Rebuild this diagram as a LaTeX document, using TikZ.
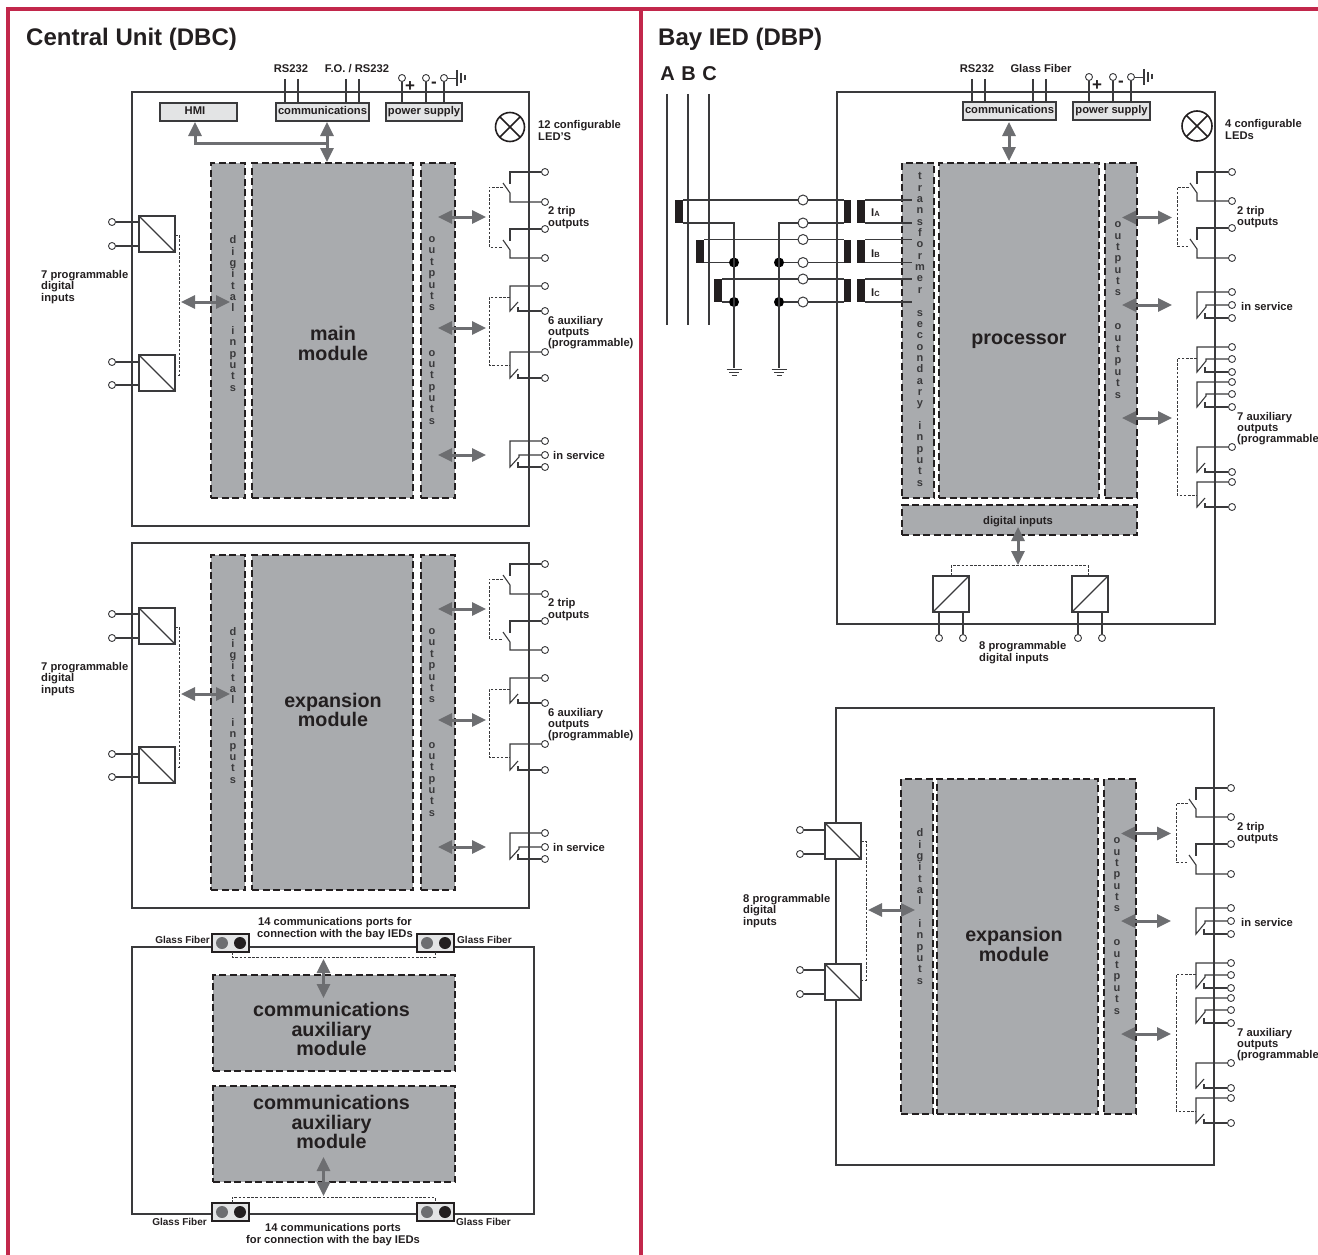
\documentclass[tikz,border=0pt]{standalone}
\usepackage{fontspec}
\setmainfont{Liberation Sans}
\usetikzlibrary{arrows.meta}
\definecolor{inkc}{HTML}{231F20}
\definecolor{linec}{HTML}{3A3A3C}
\definecolor{redc}{HTML}{C2274B}
\definecolor{blockc}{HTML}{A9ABAE}
\definecolor{arrowc}{HTML}{6D6E71}
\definecolor{boxc}{HTML}{E3E4E5}
\tikzset{
  redline/.style={draw=redc,line width=4pt},
  wire/.style={draw=linec,line width=1.1pt},
  frame/.style={draw=linec,line width=1.2pt,inner sep=0pt,outer sep=0pt},
  blockn/.style={draw=inkc,fill=blockc,line width=1.2pt,dash pattern=on 7pt off 3.5pt,inner sep=0pt,outer sep=0pt},
  grayb/.style={draw=linec,fill=boxc,line width=1.2pt,inner sep=0pt,outer sep=0pt},
  convb/.style={draw=linec,fill=white,line width=1.2pt,inner sep=0pt,outer sep=0pt},
  barb/.style={fill=inkc,draw=none,inner sep=0pt,outer sep=0pt},
  portb/.style={draw=inkc,fill=boxc,line width=1.4pt,inner sep=0pt,outer sep=0pt},
  term/.style={circle,draw=linec,fill=white,line width=.9pt,minimum size=7pt,inner sep=0pt},
  bigterm/.style={circle,draw=linec,fill=white,line width=1pt,minimum size=10pt,inner sep=0pt},
  jdot/.style={circle,fill=black,minimum size=10pt,inner sep=0pt},
  ctl/.style={dash pattern=on 2.6pt off 1.6pt,draw=linec,line width=.8pt},
  biarrow/.style={draw=arrowc,line width=3pt,{Triangle[length=14pt,width=13pt]}-{Triangle[length=14pt,width=13pt]}},
  uniarrow/.style={draw=arrowc,line width=3pt,-{Triangle[length=14pt,width=13pt]}},
  lab/.style={font=\bfseries\fontsize{11.2}{11.3}\selectfont,text=inkc,align=left,inner sep=0pt,anchor=west,yshift=-1pt},
  gflab/.style={font=\bfseries\fontsize{10}{11}\selectfont,text=inkc,inner sep=0pt,anchor=west,yshift=-1pt},
  clab/.style={font=\bfseries\fontsize{11.2}{11.5}\selectfont,text=inkc,align=center,inner sep=0pt,yshift=-.7pt},
  boxt/.style={font=\bfseries\fontsize{11.2}{12}\selectfont,text=inkc,inner sep=0pt,text height=8pt,text depth=2.5pt},
  vtext/.style={font=\bfseries\fontsize{11}{11.35}\selectfont,text=linec,align=center,inner sep=0pt},
  bigt/.style={font=\bfseries\fontsize{19.7}{19.8}\selectfont,text=inkc,align=center,inner sep=0pt},
  titlet/.style={font=\bfseries\fontsize{24}{25}\selectfont,text=inkc,inner sep=0pt,anchor=base west},
  phaset/.style={font=\bfseries\fontsize{20}{20}\selectfont,text=inkc,inner sep=0pt},
}
% generic rectangle node by corners: style, name, x1,y1,x2,y2
\newcommand{\bx}[6]{\node[#1,minimum width={#5pt-#3pt},minimum height={#6pt-#4pt}] (#2) at ({(#3+#5)/2},{(#4+#6)/2}) {};}
% double arrow between named free ends
\newcommand{\biarr}[5]{\coordinate (#1s) at (#2,#3);\coordinate (#1e) at (#4,#5);\draw[biarrow] (#1s) -- (#1e);}
% open (trip) contact: name, x, top, bottom
\newcommand{\tripc}[4]{%
  \node[term] (#1a) at (#2+35,#3) {};
  \node[term] (#1b) at (#2+35,#4) {};
  \draw[wire] (#1a) -- (#2,#3) -- (#2,#3+12);
  \draw[wire] (#1b) -- (#2,#4) -- (#2,#3+21) -- (#2-7,#3+11);}
% closed contact, two terminals
\newcommand{\nocon}[4]{%
  \node[term] (#1a) at (#2+35,#3) {};
  \node[term] (#1b) at (#2+35,#4) {};
  \draw[wire] (#1a) -- (#2,#3) -- (#2,#4) -- (#2+8,#4-9);
  \draw[wire] (#1b) -- (#2+8,#4) -- (#2+8,#4-4);}
% change-over contact, three terminals
\newcommand{\chcon}[5]{%
  \node[term] (#1a) at (#2+35,#3) {};
  \node[term] (#1m) at (#2+35,#4) {};
  \node[term] (#1b) at (#2+35,#5) {};
  \draw[wire] (#1a) -- (#2,#3) -- (#2,#5) -- (#2+9,#4+2) -- (#2+9,#4) -- (#1m);
  \draw[wire] (#1b) -- (#2+8,#5) -- (#2+8,#5-5);}
% converter box with two left terminals
\newcommand{\convl}[6]{% name x1 y1 y-term1 y-term2 xterm
  \bx{convb}{#1}{#2}{#3}{#2+36}{#3+36}
  \draw[line width=1.1pt,draw=linec] (#1.north west) -- (#1.south east);
  \node[term] (#1a) at (#6,#4) {};
  \node[term] (#1b) at (#6,#5) {};
  \draw[wire] (#1a) -- (#1.west |- #1a);
  \draw[wire] (#1b) -- (#1.west |- #1b);}
% converter box with two bottom terminals
\newcommand{\convb}[5]{% name x1 y1 xterm1 xterm2
  \bx{convb}{#1}{#2}{#3}{#2+36}{#3+36}
  \draw[line width=1.1pt,draw=linec] (#1.south west) -- (#1.north east);
  \node[term] (#1a) at (#4,#3+62) {};
  \node[term] (#1b) at (#5,#3+62) {};
  \draw[wire] (#1a) -- (#1.south -| #1a);
  \draw[wire] (#1b) -- (#1.south -| #1b);}
% LED lamp
\newcommand{\lamp}[4]{%
  \node[circle,draw=inkc,line width=1.6pt,minimum size=#4pt,inner sep=0pt,outer sep=0pt] (#1) at (#2,#3) {};
  \draw[draw=inkc,line width=1.5pt] (#1.north west) -- (#1.south east) (#1.north east) -- (#1.south west);}
% supply terminals and earth
\newcommand{\supply}[5]{%
  \node[term] (#1p) at (#2,#5) {};
  \node[term] (#1n) at (#3,#5) {};
  \node[term] (#1g) at (#4,#5) {};
  \coordinate (#1e) at (#4+13,#5);
  \draw[wire] (#1p) -- (#2,103);
  \draw[wire] (#1n) -- (#3,103);
  \draw[wire] (#1g) -- (#4,103);
  \draw[wire,line width=.9pt] (#1g) -- (#1e);
  \draw[wire] (#4+13,#5-8) -- (#4+13,#5+8);
  \draw[wire] (#4+17,#5-5) -- (#4+17,#5+5);
  \draw[wire] (#4+21,#5-3) -- (#4+21,#5+2);
  \node[font=\bfseries\fontsize{17}{17}\selectfont,text=inkc,inner sep=0pt] (#1plus) at (#2+8,#5+9) {+};
  \node[font=\bfseries\fontsize{17}{17}\selectfont,text=inkc,inner sep=0pt] (#1minus) at (#3+8,#5+7) {-};}
% earth symbol
\newcommand{\earth}[3]{%
  \coordinate (#1) at (#2,#3);
  \draw[wire,line width=.9pt] (#2-7.5,#3+1) -- (#2+7.5,#3+1);
  \draw[wire,line width=.9pt] (#2-5,#3+4) -- (#2+5,#3+4);
  \draw[wire,line width=.9pt] (#2-2.5,#3+7) -- (#2+2.5,#3+7);}
% contents of a central-unit module: label, label y
\newcommand{\dbcmodule}[2]{%
  \bx{blockn}{bdi}{211}{163}{245}{498}
  \bx{blockn}{bmain}{252}{163}{413}{498}
  \bx{blockn}{bout}{421}{163}{455}{498}
  \node[vtext] (tdi) at (233,313.5) {d\\i\\g\\i\\t\\a\\l\\[11.35pt]i\\n\\p\\u\\t\\s};
  \node[vtext] (tout) at (432,330.5) {o\\u\\t\\p\\u\\t\\s\\[34pt]o\\u\\t\\p\\u\\t\\s};
  \node[bigt] (tmain) at (333,#2) {#1\\module};
  \convl{ca}{139}{216}{222}{246}{112}
  \convl{cb}{139}{355}{362}{385}{112}
  \draw[ctl] (ca.east |- 0,235) -- (179,235) -- (179,375) -- (cb.east |- 0,375);
  \biarr{ain}{181}{302}{230}{302}
  \node[lab] (l7) at (41,286) {7 programmable\\digital\\inputs};
  \tripc{k1}{510}{172}{202}
  \tripc{k2}{510}{229}{258}
  \draw[ctl] (503,187) -- (489,187) -- (489,247) -- (503,247);
  \biarr{a1}{438}{217}{486}{217}
  \node[lab] (l2) at (548,216.5) {2 trip\\outputs};
  \nocon{k3}{510}{286}{311}
  \nocon{k4}{510}{352}{378}
  \draw[ctl] (510,297) -- (489,297) -- (489,365) -- (510,365);
  \biarr{a2}{438}{328}{486}{328}
  \node[lab] (l6) at (548,331.5) {6 auxiliary\\outputs\\(programmable)};
  \chcon{k5}{510}{441}{455}{467}
  \biarr{a3}{438}{455}{486}{455}
  \node[lab] (ls) at (553,454) {in service};
}
% right hand contacts and output block of a bay module; #1 = label x correction
\newcommand{\bayout}[1]{%
  \bx{blockn}{bout}{1105}{163}{1137}{498}
  \node[vtext] (tout) at (1118,310) {o\\u\\t\\p\\u\\t\\s\\[22.7pt]o\\u\\t\\p\\u\\t\\s};
  \tripc{k1}{1197}{172}{201}
  \tripc{k2}{1197}{228}{258}
  \draw[ctl] (1189,187) -- (1177,187) -- (1177,246) -- (1189,246);
  \biarr{a1}{1122}{217.5}{1172}{217.5}
  \node[lab] (l2) at (1237+#1,216) {2 trip\\outputs};
  \chcon{k5}{1197}{292}{305}{318}
  \biarr{a3}{1122}{305}{1172}{305}
  \node[lab] (ls) at (1241+#1,305) {in service};
  \chcon{k6}{1197}{347}{359}{372}
  \chcon{k7}{1197}{382}{394}{407}
  \nocon{k8}{1197}{447}{472}
  \nocon{k9}{1197}{482}{507}
  \draw[ctl] (1197,358) -- (1177,358) -- (1177,495) -- (1197,495);
  \biarr{a2}{1122}{418}{1172}{418}
  \node[lab] (l9) at (1237+#1,427.5) {7 auxiliary\\outputs\\(programmable};
}
\begin{document}
\begin{tikzpicture}[x=1pt,y=-1pt]
\useasboundingbox (0,0) rectangle (1318,1255);
\draw[redline] (8,1255) -- (8,9) -- (1318,9);
\draw[redline] (641,9) -- (641,1255);
\node[titlet] (t1) at (26,46) {Central Unit (DBC)};
\node[titlet] (t2) at (658,46) {Bay IED (DBP)};

%% ------- central unit, main module
\bx{frame}{f1}{132}{92}{529}{526}
\begin{scope}[name prefix=m-]
\dbcmodule{main}{343.5}
\end{scope}
\bx{grayb}{hmi}{160}{103}{237}{121}
\bx{grayb}{com1}{276}{103}{369}{121}
\bx{grayb}{pow1}{386}{103}{462}{121}
\node[boxt] (thmi) at (195,112) {HMI};
\node[boxt] (tcom1) at (com1) {communications};
\node[boxt] (tpow1) at (pow1) {power supply};
\node[clab] (trs1) at (291,68) {RS232};
\node[clab] (tfo1) at (357,68) {F.O. / RS232};
\foreach \xx in {285,298,346,359} \draw[wire] (\xx,79) -- (\xx,103);
\begin{scope}[name prefix=ps1-]
\supply{s}{402}{426}{444}{78}
\end{scope}
\lamp{led1}{510}{127}{29}
\node[lab] (tled1) at (538,129.5) {12 configurable\\LED'S};
\coordinate (hmiarr) at (195,122);
\coordinate (busj) at (327,143);
\draw[uniarrow] (busj) -| (hmiarr);
\biarr{abus}{327}{122}{327}{162}

%% ------- central unit, expansion module
\bx{frame}{f2}{132}{543}{529}{908}
\begin{scope}[yshift=-392pt,name prefix=e-]
\dbcmodule{expansion}{318}
\end{scope}

%% ------- central unit, communications
\bx{frame}{f3}{132}{947}{534}{1214}
\bx{blockn}{ca1}{213}{975}{455}{1071}
\bx{blockn}{ca2}{213}{1086}{455}{1182}
\node[bigt] (tca1) at (331.5,1029) {communications\\auxiliary\\module};
\node[bigt] (tca2) at (331.5,1122) {communications\\auxiliary\\module};
\foreach \nm/\xa/\ya in {p1/212/934,p2/417/934,p3/212/1203,p4/417/1203}{
  \bx{portb}{\nm}{\xa}{\ya}{\xa+37}{\ya+18}
  \node[circle,fill=arrowc,minimum size=12pt,inner sep=0pt] (\nm g) at (\xa+10,\ya+9) {};
  \node[circle,fill=inkc,minimum size=12pt,inner sep=0pt] (\nm k) at (\xa+28,\ya+9) {};
}
\draw[ctl] (p1.south -| 232,0) -- (232,957) -- (435,957) -- (p2.south -| 435,0);
\draw[ctl] (p3.north -| 232,0) -- (232,1197) -- (435,1197) -- (p4.north -| 435,0);
\biarr{ac1}{323.5}{959}{323.5}{998}
\biarr{ac2}{323.5}{1157}{323.5}{1196}
\node[clab] (tp1) at (335,928) {14 communications ports for\\connection with the bay IEDs};
\node[clab] (tp2) at (333,1234) {14 communications ports\\for connection with the bay IEDs};
\node[gflab,anchor=east] (g1) at (210,939) {Glass Fiber};
\node[gflab] (g2) at (457,939) {Glass Fiber};
\node[gflab,anchor=east] (g3) at (207,1221) {Glass Fiber};
\node[gflab] (g4) at (456,1221) {Glass Fiber};

%% ------- bay IED, upper
\bx{frame}{f4}{837}{92}{1215}{624}
\bx{blockn}{btr}{902}{163}{934}{498}
\bx{blockn}{bpr}{939}{163}{1099}{498}
\begin{scope}[name prefix=b-]
\bayout{0}
\end{scope}
\bx{blockn}{bdig}{902}{505}{1137}{535}
\node[clab] (tdig) at (1018,521) {digital inputs};
\node[vtext] (ttr) at (920,329.5) {t\\r\\a\\n\\s\\f\\o\\r\\m\\e\\r\\[11.35pt]s\\e\\c\\o\\n\\d\\a\\r\\y\\[11.35pt]i\\n\\p\\u\\t\\s};
\node[bigt] (tpr) at (1019,341) {processor};
\bx{grayb}{com2}{963}{102}{1056}{120}
\bx{grayb}{pow2}{1073}{102}{1150}{120}
\node[boxt] (tcom2) at (com2) {communications};
\node[boxt] (tpow2) at (pow2) {power supply};
\node[clab] (trs2) at (977,68) {RS232};
\node[clab] (tgf2) at (1041,68) {Glass Fiber};
\foreach \xx in {972,985,1033,1046} \draw[wire] (\xx,79) -- (\xx,102);
\begin{scope}[name prefix=ps2-]
\supply{s}{1089}{1113}{1131}{77}
\end{scope}
\lamp{led2}{1197}{126}{30}
\node[lab] (tled2) at (1225,128.5) {4 configurable\\LEDs};
\biarr{abay}{1009}{122}{1009}{161}
\convb{cc}{933}{576}{939}{963}
\convb{cd}{1072}{576}{1078}{1102}
\draw[ctl] (cc.north -| 951,0) -- (951,565.5) -- (1088,565.5) -- (cd.north -| 1088,0);
\biarr{adig}{1018}{527}{1018}{565}
\node[lab] (l8) at (979,651.5) {8 programmable\\digital inputs};

% phases
\foreach \nm/\xx/\ll in {pa/667/A,pb/688/B,pc/709/C}{
  \draw[wire] (\xx,94) -- (\xx,325);
  \node[phaset] (\nm) at (\xx+.7,74) {\ll};
}
% current transformers
\foreach \n/\yy/\xp in {1/200/675,2/239.5/696,3/279/714}{
  \bx{barb}{ctp\n}{\xp}{\yy}{\xp+8}{\yy+23}
  \bx{barb}{ctr\n}{844}{\yy}{851}{\yy+23}
  \bx{barb}{cts\n}{857}{\yy}{865}{\yy+23}
  \coordinate (so\n) at (912,\yy);
  \coordinate (su\n) at (912,\yy+23);
  \draw[wire] (cts\n.north east) -- (so\n);
  \draw[wire] (cts\n.south east) -- (su\n);
  \draw[wire] (ctp\n.north east) -- (ctr\n.north west);
  \node[bigterm] (to\n) at (803,\yy) {};
}
\earth{g1}{734}{368}
\earth{g2}{779}{368}
\node[jdot] (d12) at (734,262.5) {};
\node[jdot] (d13) at (734,302) {};
\node[jdot] (d22) at (779,262.5) {};
\node[jdot] (d23) at (779,302) {};
\draw[wire] (ctp1.south east) -| (g1);
\draw[wire] (ctr1.south west) -| (g2);
\draw[wire] (ctp2.south east) -- (d12);
\draw[wire] (ctp3.south east) -- (d13);
\draw[wire] (ctr2.south west) -- (d22);
\draw[wire] (ctr3.south west) -- (d23);
\foreach \n/\yy in {1/223,2/262.5,3/302}{
  \node[bigterm] (tu\n) at (803,\yy) {};
}
\newcommand{\ilab}[1]{I{\fontsize{7.5}{8}\selectfont #1}}
\node[lab] (ia) at (871,212) {\ilab{A}};
\node[lab] (ib) at (871,253) {\ilab{B}};
\node[lab] (ic) at (871,292) {\ilab{C}};

%% ------- bay IED, expansion
\bx{frame}{f5}{836}{708}{1214}{1165}
\bx{blockn}{bdx}{901}{779}{933}{1114}
\bx{blockn}{bpx}{937}{779}{1098}{1114}
\begin{scope}[shift={(-1pt,-616pt)},name prefix=x-]
\bayout{1}
\end{scope}
\node[vtext] (tdx) at (920,906.5) {d\\i\\g\\i\\t\\a\\l\\[11.35pt]i\\n\\p\\u\\t\\s};
\node[bigt] (tex) at (1014,944.5) {expansion\\module};
\convl{ce}{825}{823}{830}{854}{800}
\convl{cf}{825}{964}{970}{994}{800}
\draw[ctl] (ce.east |- 0,841) -- (866,841) -- (866,980) -- (cf.east |- 0,980);
\biarr{axi}{868}{910}{915}{910}
\node[lab] (l8x) at (743,910) {8 programmable\\digital\\inputs};
\end{tikzpicture}
\end{document}
